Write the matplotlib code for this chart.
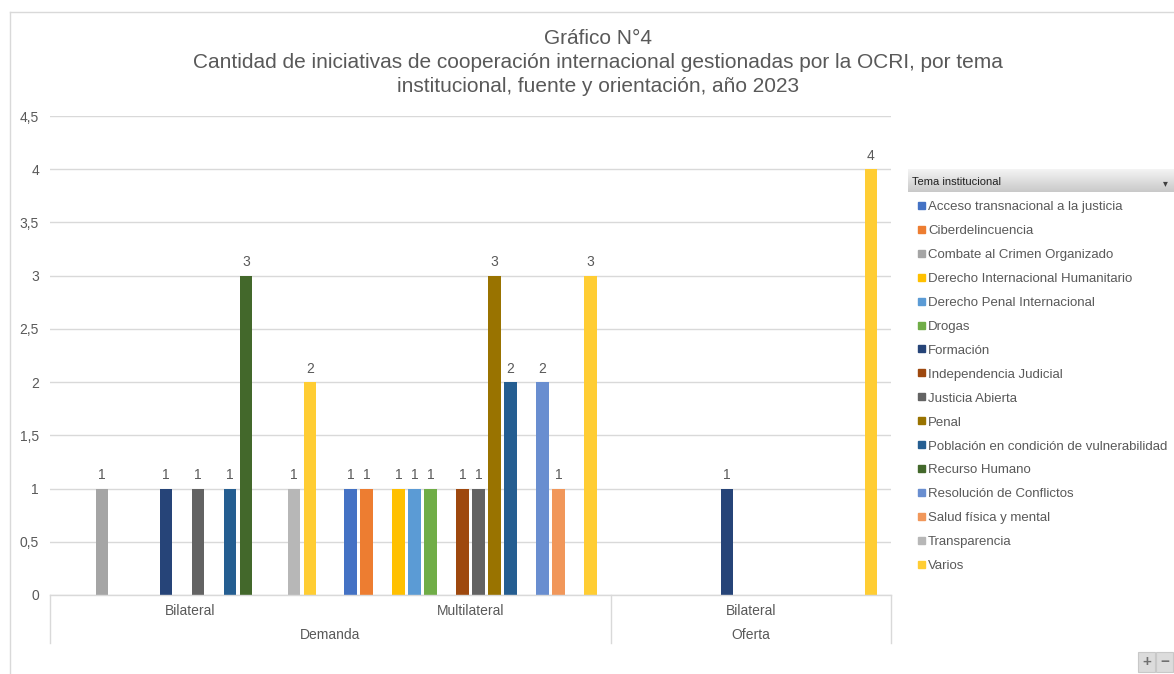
"""Gráfico N°4: iniciativas de cooperación internacional por tema, fuente y orientación"""

import matplotlib
matplotlib.use('agg')
import matplotlib.pyplot as plt
from matplotlib.patches import Rectangle
import numpy as np

plt.rcParams['font.family'] = ['Liberation Sans', 'DejaVu Sans']

TEMAS = [
    "Acceso transnacional a la justicia",
    "Ciberdelincuencia",
    "Combate al Crimen Organizado",
    "Derecho Internacional Humanitario",
    "Derecho Penal Internacional",
    "Drogas",
    "Formación",
    "Independencia Judicial",
    "Justicia Abierta",
    "Penal",
    "Población en condición de vulnerabilidad",
    "Recurso Humano",
    "Resolución de Conflictos",
    "Salud física y mental",
    "Transparencia",
    "Varios",
]
COLORES = [
    "#4472C4", "#ED7D31", "#A5A5A5", "#FFC000", "#5B9BD5", "#70AD47",
    "#264478", "#9E480E", "#636363", "#997300", "#255E91", "#43682B",
    "#698ED0", "#F1975A", "#B7B7B7", "#FFCD33",
]

# fuente (nivel 1) y orientación (nivel 2) de cada grupo
FUENTES = ["Bilateral", "Multilateral", "Bilateral"]
ORIENTACIONES = ["Demanda", "Oferta"]
GRUPOS_POR_ORIENTACION = [2, 1]

# valores por tema (0 = sin iniciativas)
DEMANDA_BILATERAL = [0, 0, 1, 0, 0, 0, 1, 0, 1, 0, 1, 3, 0, 0, 1, 2]
DEMANDA_MULTILATERAL = [1, 1, 0, 1, 1, 1, 0, 1, 1, 3, 2, 0, 2, 1, 0, 3]
OFERTA_BILATERAL = [0, 0, 0, 0, 0, 0, 1, 0, 0, 0, 0, 0, 0, 0, 0, 4]

GRIS = "#595959"
LINEA = "#D9D9D9"
W, H = 1174, 674


def px(x, y):
    """pixel coords (top-left origin) -> figure fraction"""
    return x / W, 1 - y / H


def main():
    """Main function"""
    valores = np.array([DEMANDA_BILATERAL, DEMANDA_MULTILATERAL, OFERTA_BILATERAL])
    fig = plt.figure(figsize=(W / 100, H / 100), dpi=100)

    # marco del área del gráfico
    fig.add_artist(plt.Line2D([10 / W, 10 / W], [0, 1 - 12 / H], color=LINEA, lw=1))
    fig.add_artist(plt.Line2D([10 / W, 1], [1 - 12 / H, 1 - 12 / H], color=LINEA, lw=1))

    left, top, right, bottom = 50, 116, 891, 595
    ax = fig.add_axes([left / W, 1 - bottom / H, (right - left) / W, (bottom - top) / H])
    ax.set_xlim(0, len(FUENTES))
    ax.set_ylim(0, 4.5)
    for s in ax.spines.values():
        s.set_visible(False)
    yt = np.arange(0, 4.51, 0.5)
    ax.set_yticks(yt)
    ax.set_yticklabels([("%g" % v).replace(".", ",") for v in yt])
    ax.tick_params(axis="y", length=0, pad=8, labelsize=10, labelcolor=GRIS)
    ax.set_xticks([])
    ax.grid(axis="y", color=LINEA, lw=1)
    ax.set_axisbelow(True)

    n = len(TEMAS)
    slot = 16 / ((right - left) / len(FUENTES))
    ancho = 12.5 / ((right - left) / len(FUENTES))
    for g in range(len(FUENTES)):
        for i in range(n):
            v = valores[g, i]
            if v == 0:
                continue
            x = g + 0.5 + (i - (n - 1) / 2) * slot
            ax.bar(x, v, width=ancho, color=COLORES[i], zorder=3)
            ax.annotate(str(v), (x, v), xytext=(0, 4.5), textcoords="offset points",
                        ha="center", va="bottom", fontsize=10, color=GRIS)

    # eje de categorías de dos niveles
    gw = (right - left) / len(FUENTES)
    fig.add_artist(plt.Line2D([left / W, right / W], [1 - bottom / H] * 2, color=LINEA, lw=1))
    for g, fuente in enumerate(FUENTES):
        fig.text(*px(left + gw * (g + 0.5), 611), fuente, ha="center", va="center",
                 fontsize=10, color=GRIS)
    start = 0
    bordes = [left]
    for o, k in zip(ORIENTACIONES, GRUPOS_POR_ORIENTACION):
        xc = left + gw * (start + k / 2)
        fig.text(*px(xc, 635), o, ha="center", va="center", fontsize=10, color=GRIS)
        start += k
        bordes.append(left + gw * start)
    for b in bordes:
        fig.add_artist(plt.Line2D([b / W] * 2, [1 - bottom / H, 1 - 643 / H], color=LINEA, lw=1))

    # título
    lineas = ["Gráfico N°4",
              "Cantidad de iniciativas de cooperación internacional gestionadas por la OCRI, por tema",
              "institucional, fuente y orientación, año 2023"]
    for j, t in enumerate(lineas):
        fig.text(*px(598, 39 + 24 * j), t, ha="center", va="center", fontsize=15, color=GRIS)

    # leyenda con encabezado de campo de tabla dinámica
    grad = np.linspace(0, 1, 50).reshape(-1, 1)
    hx0, hy0, hx1, hy1 = 908, 169, 1174, 192
    hax = fig.add_axes([hx0 / W, 1 - hy1 / H, (hx1 - hx0) / W, (hy1 - hy0) / H])
    hax.imshow(grad, aspect="auto", cmap=matplotlib.colors.LinearSegmentedColormap.from_list(
        "g", ["#F4F4F4", "#C9C9C9"]), extent=(0, 1, 0, 1), origin="upper")
    hax.set_axis_off()
    fig.text(*px(912, 182), "Tema institucional", ha="left", va="center",
             fontsize=8, color="#202020")
    fig.text(*px(1165, 183), "▾", ha="center", va="center", fontsize=7, color="#404040",
             family=["DejaVu Sans"])
    for i, (tema, c) in enumerate(zip(TEMAS, COLORES)):
        y = 206 + 23.9 * i
        fig.add_artist(Rectangle(px(918, y + 3), 7 / W, 7 / H, color=c,
                                 transform=fig.transFigure))
        fig.text(*px(928, y + 1.5), tema, ha="left", va="center", fontsize=9.5, color=GRIS)

    # botones de zoom
    for bx, s in [(1138, "+"), (1156, "−")]:
        fig.add_artist(Rectangle(px(bx, 672), 17 / W, 20 / H, facecolor="#DCDCDC",
                                 edgecolor="#C8C8C8", lw=0.8, transform=fig.transFigure))
        fig.text(*px(bx + 8.5, 662), s, ha="center", va="center", fontsize=11,
                 color="#707070", weight="bold")

    fig.savefig("out.png", dpi=100)


if __name__ == "__main__":
    main()
